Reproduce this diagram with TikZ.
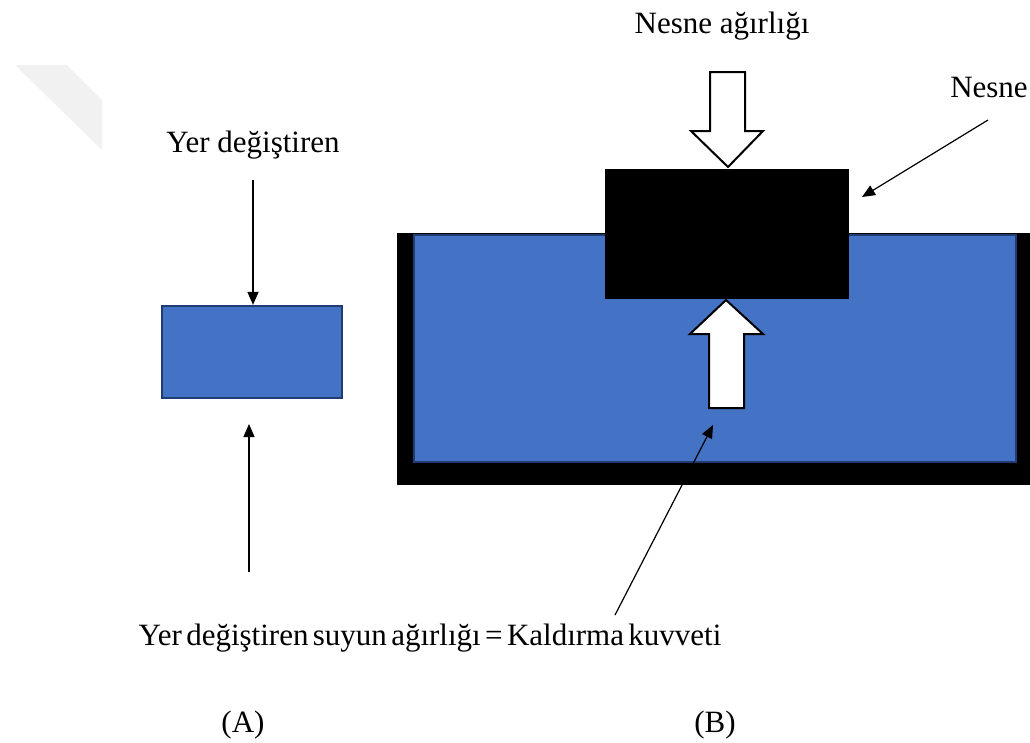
\documentclass[tikz,border=0pt]{standalone}
\usepackage{fontspec}
\setmainfont{Liberation Serif}
\usetikzlibrary{arrows.meta}
\definecolor{water}{HTML}{4472C4}
\definecolor{waterline}{HTML}{203D73}
\definecolor{wmgray}{HTML}{F1F1F1}
\tikzset{
  lbl/.style={inner sep=0pt, anchor=base, font=\fontsize{31}{37}\selectfont},
  pointer/.style={line width=1.2pt, -{Triangle[length=13pt,width=11pt]}},
  blockarrow/.style={fill=white, draw=black, line width=2pt, line join=miter},
}
\begin{document}
\begin{tikzpicture}[x=1pt,y=-1pt]
\useasboundingbox (0,0) rectangle (1030,742);
% faint watermark
\fill[wmgray] (15,65) -- (67,65) -- (102,100) -- (102,150) -- cycle;
% (A) displaced block
\node[lbl] (ydlabel) at (253,152) {Yer değiştiren};
\node[draw=waterline, fill=water, line width=2.2pt, minimum width=180pt, minimum height=92pt, inner sep=0pt] (block) at (252,352) {};
\coordinate (ydstart) at (253,180);
\draw[pointer] (ydstart) -- (block.north -| ydstart);
% container (B)
\node[fill=black, minimum width=633pt, minimum height=252pt, inner sep=0pt] (tank) at (713.5,359) {};
\node[fill=water, draw=waterline, line width=1.5pt, minimum width=602pt, minimum height=227pt, inner sep=0pt] (water) at (715,348.5) {};
\node[fill=black, minimum width=244pt, minimum height=130pt, inner sep=0pt] (object) at (727,234) {};
% buoyancy arrow
\draw[blockarrow] (726,300) -- (763,334) -- (744,334) -- (744,408) -- (709,408) -- (709,334) -- (690,334) -- cycle;
% weight arrow
\draw[blockarrow] (710,72) -- (745,72) -- (745,131) -- (763,131) -- (728,167) -- (691,131) -- (710,131) -- cycle;
\node[lbl] (weight) at (722,33) {Nesne ağırlığı};
\node[lbl] (nesne) at (989,97) {Nesne};
\coordinate (nstart) at (988,120);
\coordinate (ntip) at (862,197);
\draw[pointer] (nstart) -- (ntip);
% bottom label
\node[lbl] (eq) at (430,645) {\spaceskip=0.14em Yer değiştiren suyun ağırlığı = Kaldırma kuvveti};
\coordinate (a1) at (249,572);
\coordinate (a1tip) at (249,424);
\draw[pointer] (a1) -- (a1tip);
\coordinate (b1) at (615,615);
\coordinate (b1tip) at (713,425);
\draw[pointer] (b1) -- (b1tip);
\node[lbl] (capA) at (243,732) {(A)};
\node[lbl] (capB) at (715,732) {(B)};
\end{tikzpicture}
\end{document}
